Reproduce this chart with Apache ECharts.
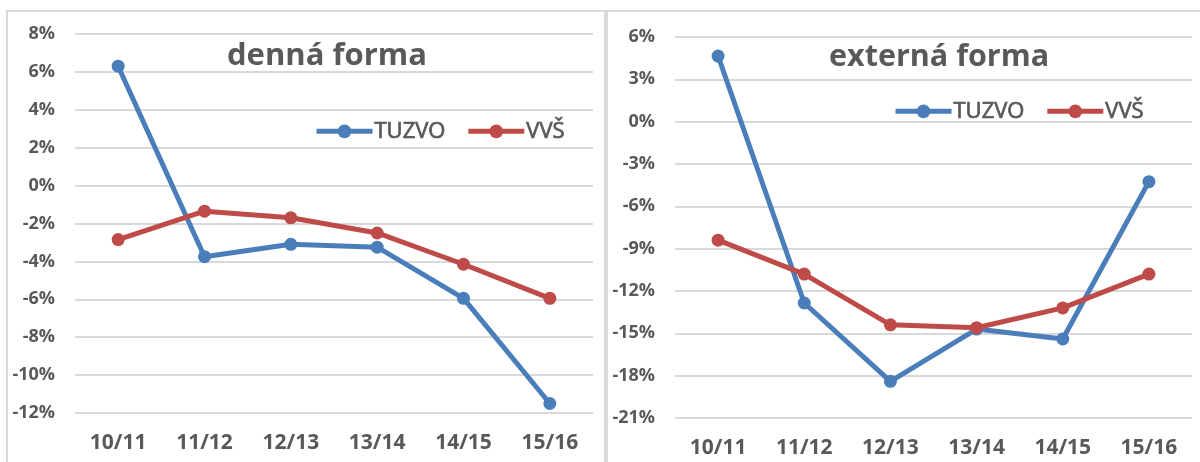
<!DOCTYPE html>
<html>
<head>
<meta charset="utf-8">
<script src="https://cdn.jsdelivr.net/npm/echarts@6/dist/echarts.min.js"></script>
<style>
  html, body { margin: 0; padding: 0; background: #fff; }
  #main { width: 1200px; height: 462px; }
</style>
</head>
<body>
<div id="main"></div>
<script>
// data
const categories = ['10/11', '11/12', '12/13', '13/14', '14/15', '15/16'];
const dennaTuzvo = [6.3, -3.75, -3.1, -3.25, -5.95, -11.5];
const dennaVvs = [-2.85, -1.35, -1.7, -2.5, -4.15, -5.95];
const externaTuzvo = [4.65, -12.85, -18.4, -14.7, -15.4, -4.25];
const externaVvs = [-8.4, -10.8, -14.4, -14.6, -13.2, -10.8];
const dennaTicks = [-12, -10, -8, -6, -4, -2, 0, 2, 4, 6, 8];
const externaTicks = [-21, -18, -15, -12, -9, -6, -3, 0, 3, 6];

const font = 'Open Sans';
const textColor = '#595959';
const gridColor = '#d9d9d9';
const blue = '#4a7ebb';
const red = '#be4b48';

const myChart = echarts.init(document.getElementById('main'));

function xAxis(idx) {
  return {
    type: 'category',
    gridIndex: idx,
    data: categories,
    axisLine: { show: false },
    axisTick: { show: false },
    axisLabel: {
      color: textColor,
      fontFamily: font,
      fontWeight: 'bold',
      fontSize: 21,
      margin: 20
    }
  };
}

function yAxis(idx, ticks) {
  return {
    type: 'value',
    gridIndex: idx,
    min: ticks[0],
    max: ticks[ticks.length - 1],
    interval: ticks[1] - ticks[0],
    axisLine: { show: false },
    axisTick: { show: false },
    splitLine: { lineStyle: { color: gridColor, width: 2 } },
    axisLabel: {
      color: textColor,
      fontFamily: font,
      fontWeight: 'bold',
      fontSize: 18,
      margin: 20,
      formatter: '{value}%'
    }
  };
}

function line(name, data, color, idx) {
  return {
    name: name,
    type: 'line',
    xAxisIndex: idx,
    yAxisIndex: idx,
    data: data,
    symbol: 'circle',
    symbolSize: 13,
    itemStyle: { color: color },
    lineStyle: { color: color, width: 5 },
    z: name === 'VVŠ' ? 3 : 2
  };
}

function legend(left, top) {
  return {
    left: left,
    top: top,
    itemWidth: 56,
    itemHeight: 17,
    itemGap: 20,
    data: ['TUZVO', 'VVŠ'],
    lineStyle: { width: 5 },
    textStyle: {
      color: textColor,
      fontFamily: font,
      fontSize: 22,
      textBorderColor: textColor,
      textBorderWidth: 0.7,
      padding: [0, 0, 0, -3]
    }
  };
}

myChart.setOption({
  animation: false,
  title: [
    {
      text: 'denná forma',
      left: 222,
      top: 36,
      textStyle: { color: textColor, fontFamily: font, fontWeight: 'bold', fontSize: 31 }
    },
    {
      text: 'externá forma',
      left: 824,
      top: 37,
      textStyle: { color: textColor, fontFamily: font, fontWeight: 'bold', fontSize: 30.5 }
    }
  ],
  legend: [legend(309, 115), legend(888, 95)],
  graphic: [
    {
      type: 'rect',
      shape: { x: 7, y: 11, width: 598, height: 480 },
      style: { stroke: gridColor, fill: 'none', lineWidth: 2 },
      silent: true
    },
    {
      type: 'rect',
      shape: { x: 607, y: 11, width: 620, height: 480 },
      style: { stroke: gridColor, fill: 'none', lineWidth: 2 },
      silent: true
    }
  ],
  grid: [
    { left: 75, right: 607, top: 34, height: 379 },
    { left: 675, right: 8, top: 37, height: 381 }
  ],
  xAxis: [xAxis(0), xAxis(1)],
  yAxis: [yAxis(0, dennaTicks), yAxis(1, externaTicks)],
  series: [
    line('TUZVO', dennaTuzvo, blue, 0),
    line('VVŠ', dennaVvs, red, 0),
    line('TUZVO', externaTuzvo, blue, 1),
    line('VVŠ', externaVvs, red, 1)
  ]
});
</script>
</body>
</html>
